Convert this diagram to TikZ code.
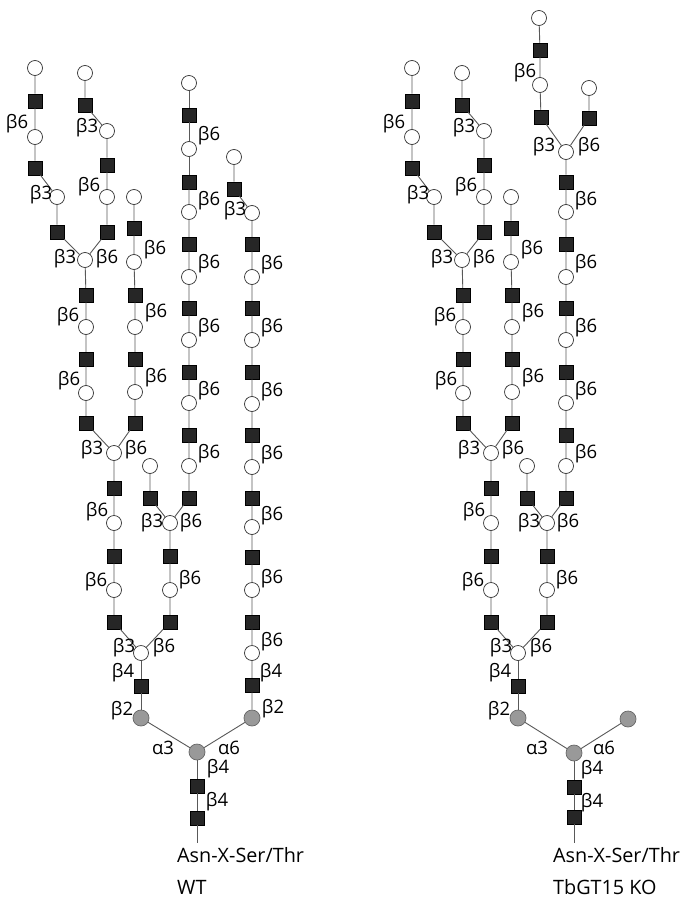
\documentclass[tikz,border=0pt]{standalone}
\usepackage{fontspec}
\setmainfont{Open Sans}
\newcounter{labc}
\tikzset{
  gn/.style={rectangle, draw=black, fill=black!85, minimum size=14pt, inner sep=0pt, line width=0.5pt},
  ga/.style={circle, draw=black!80, fill=white, minimum size=15pt, inner sep=0pt, line width=0.7pt},
  mn/.style={circle, draw=black!60, fill=black!40, minimum size=16pt, inner sep=0pt, line width=0.7pt},
  lk/.style={draw=black!65, line width=0.9pt},
  lb/.style={font=\fontsize{18.5}{19}\selectfont, inner sep=0pt, text=black},
  tx/.style={font=\fontsize{19.8}{21}\selectfont, inner sep=0pt, text=black, anchor=west}
}
\newcommand\lab[3]{\stepcounter{labc}\node[lb] (lab\thelabc) at (#1,#2) {#3};}
% left antenna, shared by both glycans (prefix #1)
\newcommand\LeftAnt[1]{%
  \node[mn] (#1ML) at (141,718) {};
  \node[gn] (#1L0) at (141,686) {};
  \node[ga] (#1G1) at (141,653) {};
  \node[gn] (#1a1) at (114,622) {};
  \node[ga] (#1a2) at (114,590) {};
  \node[gn] (#1a3) at (114,556) {};
  \node[ga] (#1a4) at (114,523) {};
  \node[gn] (#1a5) at (114,488) {};
  \node[ga] (#1G2) at (114,453) {};
  \node[gn] (#1c1) at (86,423) {};
  \node[ga] (#1c2) at (86,393) {};
  \node[gn] (#1c3) at (86,359) {};
  \node[ga] (#1c4) at (86,327) {};
  \node[gn] (#1c5) at (86,295) {};
  \node[ga] (#1G3) at (85,260) {};
  \node[gn] (#1f1) at (57,232) {};
  \node[ga] (#1f2) at (57,197) {};
  \node[gn] (#1g1) at (35,168) {};
  \node[ga] (#1g2) at (35,137) {};
  \node[gn] (#1g3) at (35,101) {};
  \node[ga] (#1g4) at (35,68) {};
  \node[gn] (#1h1) at (107,232) {};
  \node[ga] (#1h2) at (107,197) {};
  \node[gn] (#1h3) at (107,165) {};
  \node[ga] (#1h4) at (107,131) {};
  \node[gn] (#1i1) at (85,105) {};
  \node[ga] (#1i2) at (85,73) {};
  \node[gn] (#1e1) at (135,423) {};
  \node[ga] (#1e2) at (135,392) {};
  \node[gn] (#1e3) at (135,359) {};
  \node[ga] (#1e4) at (135,327) {};
  \node[gn] (#1e5) at (135,295) {};
  \node[ga] (#1e6) at (134,262) {};
  \node[gn] (#1e7) at (134,228) {};
  \node[ga] (#1e8) at (134,197) {};
  \node[gn] (#1b1) at (170,622) {};
  \node[ga] (#1b2) at (170,590) {};
  \node[gn] (#1b3) at (170,556) {};
  \node[ga] (#1G4) at (170,523) {};
  \node[gn] (#1j1) at (150,498) {};
  \node[ga] (#1j2) at (150,466) {};
  \node[gn] (#1m1) at (189,498) {};
  \node[ga] (#1m2) at (189,466) {};
  \node[gn] (#1m3) at (189,435) {};
  \node[ga] (#1m4) at (189,403) {};
  \node[gn] (#1m5) at (189,372) {};
  \node[ga] (#1m6) at (189,340) {};
  \node[gn] (#1m7) at (189,308) {};
  \node[ga] (#1m8) at (189,277) {};
  \node[gn] (#1m9) at (189,244) {};
  \node[ga] (#1m10) at (189,212) {};
  \node[gn] (#1m11) at (189,182) {};
  \draw[lk] (#1ML)--(#1L0)--(#1G1);
  \draw[lk] (#1G1)--(#1a1)--(#1a2)--(#1a3)--(#1a4)--(#1a5)--(#1G2);
  \draw[lk] (#1G2)--(#1c1)--(#1c2)--(#1c3)--(#1c4)--(#1c5)--(#1G3);
  \draw[lk] (#1G3)--(#1f1)--(#1f2)--(#1g1)--(#1g2)--(#1g3)--(#1g4);
  \draw[lk] (#1G3)--(#1h1)--(#1h2)--(#1h3)--(#1h4)--(#1i1)--(#1i2);
  \draw[lk] (#1G2)--(#1e1)--(#1e2)--(#1e3)--(#1e4)--(#1e5)--(#1e6)--(#1e7)--(#1e8);
  \draw[lk] (#1G1)--(#1b1)--(#1b2)--(#1b3)--(#1G4);
  \draw[lk] (#1G4)--(#1j1)--(#1j2);
  \draw[lk] (#1G4)--(#1m1)--(#1m2)--(#1m3)--(#1m4)--(#1m5)--(#1m6)--(#1m7)--(#1m8)--(#1m9)--(#1m10)--(#1m11);
  \lab{122}{711}{β2}
  \lab{123}{673}{β4}
  \lab{124}{648}{β3}
  \lab{164}{648}{β6}
  \lab{96}{582}{β6}
  \lab{97}{512}{β6}
  \lab{190}{580}{β6}
  \lab{92}{450}{β3}
  \lab{136}{450}{β6}
  \lab{69}{381}{β6}
  \lab{68}{317}{β6}
  \lab{156}{378}{β6}
  \lab{156}{313}{β6}
  \lab{155}{250}{β6}
  \lab{65}{259}{β3}
  \lab{107}{259}{β6}
  \lab{41}{195}{β3}
  \lab{17}{124}{β6}
  \lab{89}{187}{β6}
  \lab{87}{128}{β3}
  \lab{152}{523}{β3}
  \lab{191}{523}{β6}
  \lab{209}{454}{β6}
  \lab{209}{391}{β6}
  \lab{209}{328}{β6}
  \lab{209}{264}{β6}
  \lab{209}{201}{β6}
}
\begin{document}
\begin{tikzpicture}[x=1pt,y=-1pt]
\useasboundingbox[fill=white] (0,0) rectangle (680,901);
% ================= WT =================
\LeftAnt{w}
\node[ga] (wm12) at (189,149) {};
\node[gn] (wm13) at (189,115) {};
\node[ga] (wm14) at (189,83) {};
\draw[lk] (wm11)--(wm12)--(wm13)--(wm14);
\lab{209}{136}{β6}
% right antenna
\node[mn] (wMR) at (252,718) {};
\node[gn] (wR0) at (252,685) {};
\node[ga] (wR1) at (252,653) {};
\node[gn] (wR2) at (252,622) {};
\node[ga] (wR3) at (252,590) {};
\node[gn] (wR4) at (252,557) {};
\node[ga] (wR5) at (252,527) {};
\node[gn] (wR6) at (252,498) {};
\node[ga] (wR7) at (252,467) {};
\node[gn] (wR8) at (252,435) {};
\node[ga] (wR9) at (252,404) {};
\node[gn] (wR10) at (252,372) {};
\node[ga] (wR11) at (252,340) {};
\node[gn] (wR12) at (252,308) {};
\node[ga] (wR13) at (252,277) {};
\node[gn] (wR14) at (252,244) {};
\node[ga] (wR15) at (252,213) {};
\node[gn] (wR16) at (234,189) {};
\node[ga] (wR17) at (234,157) {};
\draw[lk] (wMR)--(wR0)--(wR1)--(wR2)--(wR3)--(wR4)--(wR5)--(wR6)--(wR7)--(wR8)--(wR9)--(wR10)--(wR11)--(wR12)--(wR13)--(wR14)--(wR15)--(wR16)--(wR17);
\lab{273}{709}{β2}
\lab{271}{673}{β4}
\lab{272}{642}{β6}
\lab{272}{579}{β6}
\lab{272}{516}{β6}
\lab{272}{455}{β6}
\lab{272}{392}{β6}
\lab{272}{328}{β6}
\lab{272}{265}{β6}
\lab{235}{211}{β3}
% core
\node[mn] (wMC) at (197,752) {};
\node[gn] (wC1) at (197,786) {};
\node[gn] (wC2) at (197,818) {};
\coordinate (wEnd) at (197,843);
\draw[lk] (wML)--(wMC)--(wMR);
\draw[lk] (wMC)--(wC1)--(wC2)--(wEnd);
\lab{163}{748}{α3}
\lab{229}{748}{α6}
\lab{218}{769}{β4}
\lab{217}{802}{β4}
\node[tx] (wAsn) at (177,855) {Asn-X-Ser/Thr};
\node[tx] (wTitle) at (177,887) {WT};
% ================= TbGT15 KO =================
\begin{scope}[xshift=377pt]
\LeftAnt{k}
\node[ga] (km12) at (189,152) {};
\node[gn] (kn1) at (164,117) {};
\node[ga] (kn2) at (163,85) {};
\node[gn] (kn3) at (163,50) {};
\node[ga] (kn4) at (162,18) {};
\node[gn] (ko1) at (212,118) {};
\node[ga] (ko2) at (212,88) {};
\draw[lk] (km11)--(km12)--(kn1)--(kn2)--(kn3)--(kn4);
\draw[lk] (km12)--(ko1)--(ko2);
\lab{167}{147}{β3}
\lab{212}{147}{β6}
\lab{148}{73}{β6}
\node[mn] (kMR) at (251,719) {};
\node[mn] (kMC) at (197,753) {};
\node[gn] (kC1) at (197,787) {};
\node[gn] (kC2) at (197,817) {};
\coordinate (kEnd) at (197,843);
\draw[lk] (kML)--(kMC)--(kMR);
\draw[lk] (kMC)--(kC1)--(kC2)--(kEnd);
\lab{160}{748}{α3}
\lab{227}{748}{α6}
\lab{215}{770}{β4}
\lab{215}{803}{β4}
\node[tx] (kAsn) at (176,855) {Asn-X-Ser/Thr};
\node[tx] (kTitle) at (176,887) {TbGT15 KO};
\end{scope}
\end{tikzpicture}
\end{document}
